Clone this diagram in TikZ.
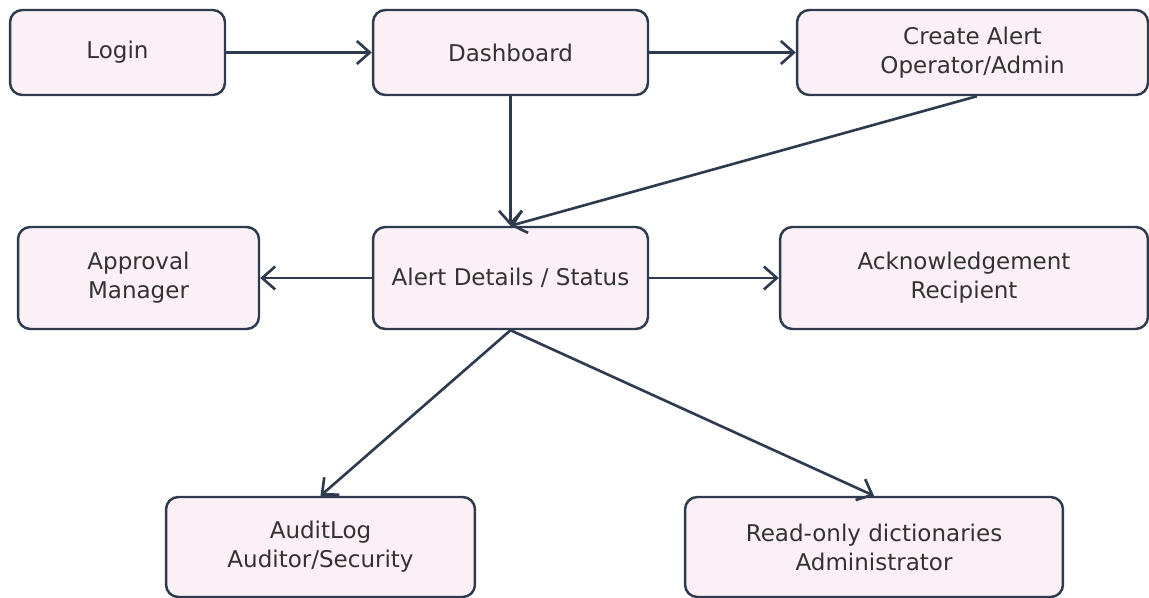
\documentclass[tikz,border=0pt]{standalone}
\usepackage{fontspec}
\setmainfont{DejaVu Sans}
\usetikzlibrary{arrows.meta}
\definecolor{boxfill}{HTML}{FBF0F5}
\definecolor{boxline}{HTML}{2E3B4E}
\begin{document}
\begin{tikzpicture}[
  x=0.02cm, y=-0.02cm,
  font=\fontsize{13.1}{16.6}\selectfont,
  box/.style={draw=boxline,line width=1.4pt,rounded corners=7pt,fill=boxfill,
    align=center,inner sep=0pt,text=black!80},
  flow/.style={draw=boxline,line width=1.5pt,
    -{Straight Barb[length=2.6mm,width=4.6mm,line width=1.5pt]}}]
\useasboundingbox (0,0) rectangle (1149,598);
\node[box,minimum width=4.3cm,minimum height=1.7cm] (login) at (117.5,52.5) {Login};
\node[box,minimum width=5.5cm,minimum height=1.7cm] (dash) at (510.5,52.5) {Dashboard};
\node[box,minimum width=7.02cm,minimum height=1.7cm] (create) at (972.5,52.5) {Create Alert\\Operator/Admin};
\node[box,minimum width=4.82cm,minimum height=2.04cm] (approval) at (138.5,278) {Approval\\Manager};
\node[box,minimum width=5.5cm,minimum height=2.04cm] (details) at (510.5,278) {Alert Details / Status};
\node[box,minimum width=7.36cm,minimum height=2.04cm] (ack) at (964,278) {Acknowledgement\\Recipient};
\node[box,minimum width=6.18cm,minimum height=2cm] (audit) at (320.5,547) {AuditLog\\Auditor/Security};
\node[box,minimum width=7.56cm,minimum height=2cm] (dicts) at (874,547) {Read-only dictionaries\\Administrator};
\draw[flow] (login) -- (dash);
\draw[flow] (dash) -- (create);
\draw[flow] (dash) -- (details);
\draw[flow] ([xshift=2.5]create.south) -- (details.north);
\draw[flow] (details) -- (approval);
\draw[flow] (details) -- (ack);
\draw[flow] (details.south) -- (audit.north);
\draw[flow] (details.south) -- (dicts.north);
\end{tikzpicture}
\end{document}
